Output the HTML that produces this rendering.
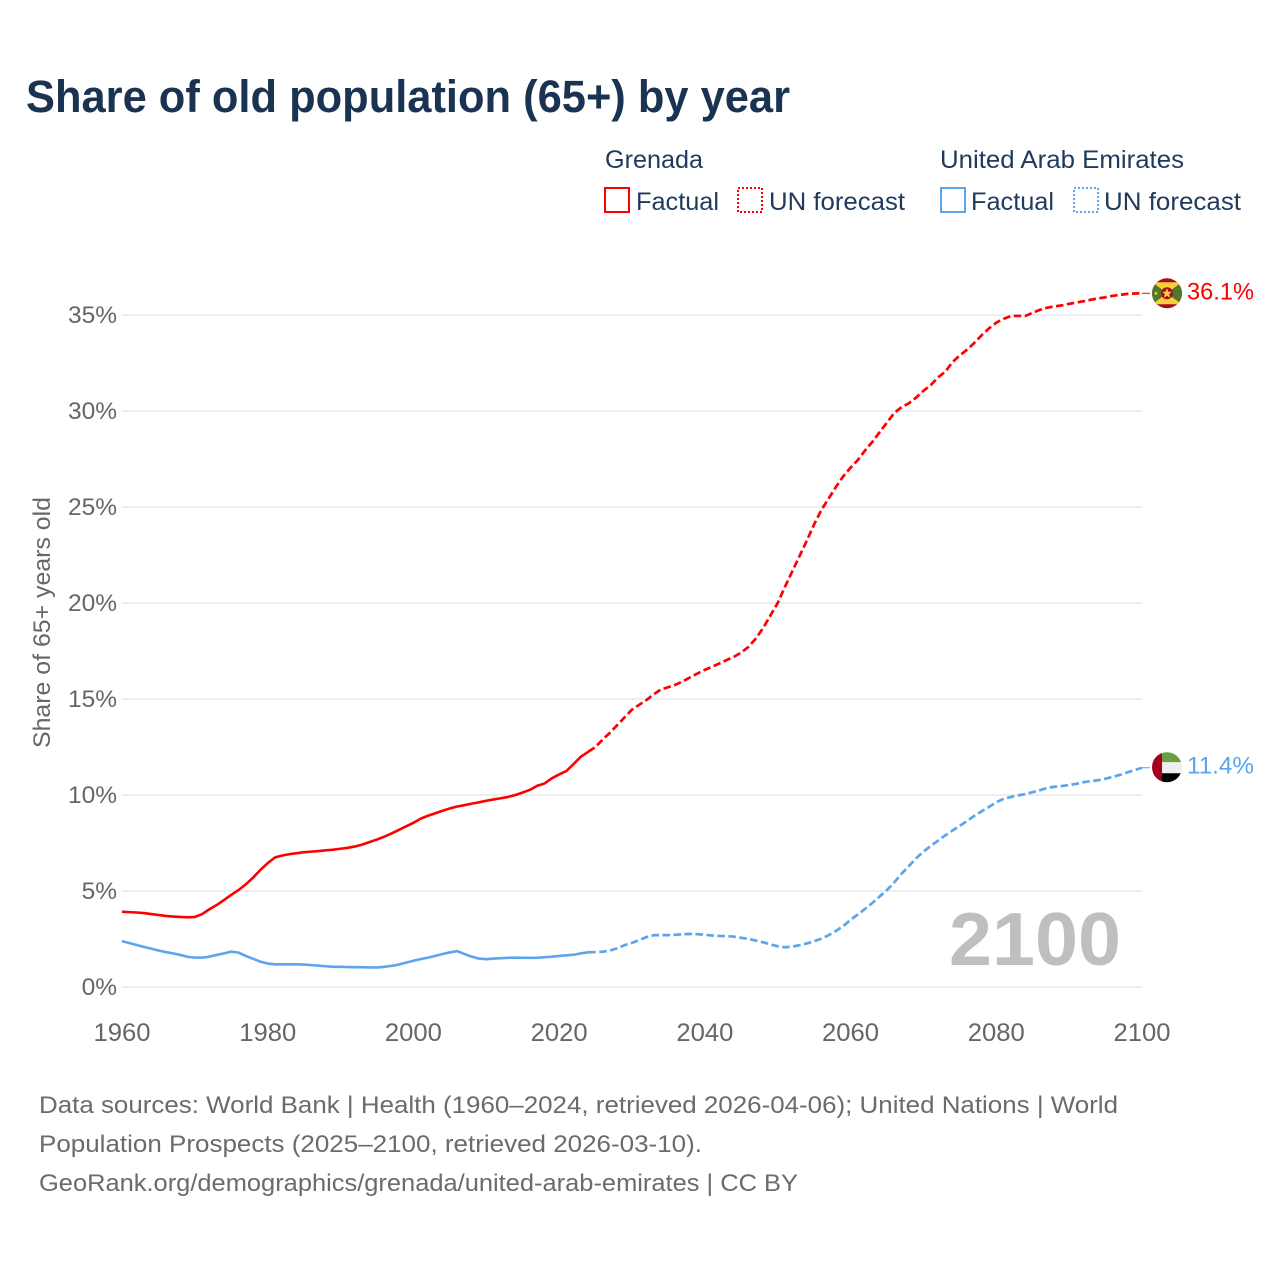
<!DOCTYPE html>
<html lang="en">
<head>
<meta charset="utf-8">
<title>Share of old population (65+) by year</title>
<style>
html,body{margin:0;padding:0;background:#fff;}
svg{display:block;font-family:"Liberation Sans",sans-serif;}
</style>
</head>
<body>
<svg id="chart" xmlns="http://www.w3.org/2000/svg" width="1280" height="1280" viewBox="0 0 1280 1280">
  <defs>
    <clipPath id="flag-clip"><circle cx="0" cy="0" r="15"/></clipPath>
  </defs>
  <rect x="0" y="0" width="1280" height="1280" fill="#fff"/>

  <text x="26" y="112" font-size="45" font-weight="700" fill="#1a3353" textLength="764" lengthAdjust="spacingAndGlyphs">Share of old population (65+) by year</text>

  <g font-size="25" fill="#1f3a5c">
    <text x="605" y="168" textLength="98" lengthAdjust="spacingAndGlyphs">Grenada</text>
    <rect x="605" y="188" width="24" height="24" fill="none" stroke="#ff0000" stroke-width="2"/>
    <text x="636" y="210" textLength="83" lengthAdjust="spacingAndGlyphs">Factual</text>
    <rect x="738" y="188" width="24" height="24" fill="none" stroke="#ff0000" stroke-width="2" stroke-dasharray="2 2"/>
    <text x="769" y="210" textLength="136" lengthAdjust="spacingAndGlyphs">UN forecast</text>

    <text x="940" y="168" textLength="244" lengthAdjust="spacingAndGlyphs">United Arab Emirates</text>
    <rect x="941" y="188" width="24" height="24" fill="none" stroke="#5ba4ee" stroke-width="2"/>
    <text x="971" y="210" textLength="83" lengthAdjust="spacingAndGlyphs">Factual</text>
    <rect x="1074" y="188" width="24" height="24" fill="none" stroke="#5ba4ee" stroke-width="2" stroke-dasharray="2 2"/>
    <text x="1104" y="210" textLength="137" lengthAdjust="spacingAndGlyphs">UN forecast</text>
  </g>

  <g id="grid"></g>
  <g id="y-ticks"></g>
  <g id="x-ticks"></g>

  <text transform="translate(50,622.5) rotate(-90)" text-anchor="middle" font-size="24" fill="#666" textLength="251" lengthAdjust="spacingAndGlyphs">Share of 65+ years old</text>

  <text id="year-watermark" x="1121" y="965" text-anchor="end" font-size="75" font-weight="700" fill="#bfbfbf" textLength="172" lengthAdjust="spacingAndGlyphs"></text>

  <g id="series"></g>

  <g id="flag-grenada">
    <g clip-path="url(#flag-clip)">
      <rect x="-16" y="-16" width="32" height="32" fill="#a50e22"/>
      <polygon points="-15,-11 15,-11 0,0" fill="#f6cf3a"/>
      <polygon points="-15,11 15,11 0,0" fill="#f6cf3a"/>
      <polygon points="-15,-11 -15,11 0,0" fill="#4f7a2c"/>
      <polygon points="15,-11 15,11 0,0" fill="#4f7a2c"/>
      <circle cx="0" cy="0" r="6" fill="#a50e22"/>
      <polygon points="0,-5 1.4,-1.6 4.8,-1.6 2.2,0.8 3,4.4 0,2.4 -3,4.4 -2.2,0.8 -4.8,-1.6 -1.4,-1.6" fill="#f6cf3a"/>
      <circle cx="-11" cy="0" r="1.6" fill="#e5b93a"/>
    </g>
  </g>
  <g id="flag-uae">
    <g clip-path="url(#flag-clip)">
      <rect x="-16" y="-16" width="32" height="11" fill="#6a9f45"/>
      <rect x="-16" y="-5" width="32" height="11" fill="#eeeeee"/>
      <rect x="-16" y="6" width="32" height="10" fill="#000000"/>
      <rect x="-16" y="-16" width="11" height="32" fill="#a5001e"/>
    </g>
  </g>
  <text id="label-grenada" x="1187" text-anchor="start" font-size="24.5" fill="#ff0000" textLength="67" lengthAdjust="spacingAndGlyphs"></text>
  <text id="label-uae" x="1187" text-anchor="start" font-size="24.5" fill="#5ba4ee" textLength="67" lengthAdjust="spacingAndGlyphs"></text>

  <g font-size="24.5" fill="#6b6b6b">
    <text x="39" y="1113" textLength="1079" lengthAdjust="spacingAndGlyphs">Data sources: World Bank | Health (1960–2024, retrieved 2026-04-06); United Nations | World</text>
    <text x="39" y="1152" textLength="663" lengthAdjust="spacingAndGlyphs">Population Prospects (2025–2100, retrieved 2026-03-10).</text>
    <text x="39" y="1191" textLength="759" lengthAdjust="spacingAndGlyphs">GeoRank.org/demographics/grenada/united-arab-emirates | CC BY</text>
  </g>
</svg>
<script>
const startYear = 1960;
const lastFactualYear = 2024;
const xTickYears = [1960, 1980, 2000, 2020, 2040, 2060, 2080, 2100];
const yTickValues = [0, 5, 10, 15, 20, 25, 30, 35];
const grenadaValues = [
  3.92,3.90,3.88,3.85,3.80,3.75,3.70,3.67,3.65,3.63,
  3.65,3.80,4.05,4.27,4.53,4.80,5.05,5.35,5.70,6.10,
  6.45,6.75,6.85,6.92,6.97,7.02,7.05,7.08,7.12,7.15,
  7.20,7.25,7.32,7.42,7.55,7.68,7.83,8.00,8.18,8.37,
  8.55,8.77,8.92,9.05,9.18,9.30,9.40,9.47,9.55,9.62,
  9.70,9.77,9.83,9.90,10.00,10.13,10.27,10.48,10.60,10.87,
  11.07,11.25,11.62,12.00,12.25,12.50,12.90,13.25,13.65,14.05,
  14.45,14.70,14.95,15.25,15.50,15.62,15.75,15.92,16.13,16.33,
  16.52,16.68,16.85,17.03,17.20,17.42,17.72,18.15,18.70,19.35,
  20.00,20.85,21.65,22.45,23.25,24.10,24.85,25.45,26.05,26.60,
  27.05,27.45,27.95,28.40,28.90,29.40,29.90,30.20,30.40,30.70,
  31.05,31.35,31.75,32.05,32.55,32.90,33.20,33.55,33.95,34.30,
  34.60,34.80,34.95,34.95,34.95,35.12,35.27,35.38,35.45,35.50,
  35.58,35.65,35.72,35.80,35.87,35.92,36.00,36.05,36.10,36.12,
  36.13
];
const uaeValues = [
  2.39,2.29,2.19,2.09,2.00,1.90,1.82,1.75,1.67,1.57,
  1.53,1.53,1.58,1.67,1.75,1.84,1.79,1.62,1.47,1.32,
  1.22,1.18,1.18,1.18,1.18,1.17,1.14,1.11,1.08,1.05,
  1.05,1.04,1.03,1.03,1.02,1.02,1.05,1.10,1.17,1.27,
  1.37,1.45,1.53,1.62,1.72,1.80,1.87,1.72,1.58,1.48,
  1.45,1.48,1.50,1.52,1.53,1.52,1.52,1.52,1.55,1.58,
  1.62,1.65,1.68,1.75,1.81,1.82,1.84,1.90,2.02,2.18,
  2.30,2.45,2.60,2.70,2.70,2.70,2.72,2.75,2.76,2.75,
  2.72,2.68,2.66,2.65,2.62,2.56,2.50,2.42,2.33,2.22,
  2.12,2.07,2.10,2.18,2.27,2.38,2.52,2.70,2.92,3.18,
  3.50,3.78,4.07,4.38,4.72,5.05,5.45,5.90,6.30,6.70,
  7.05,7.35,7.62,7.90,8.15,8.40,8.65,8.92,9.15,9.38,
  9.62,9.80,9.90,9.98,10.05,10.15,10.25,10.37,10.43,10.47,
  10.52,10.58,10.67,10.72,10.77,10.85,10.95,11.05,11.18,11.30,
  11.42
];

const svgNS = 'http://www.w3.org/2000/svg';
const xScale = year => 122 + (year - 1960) * (1020 / 140);
const yScale = value => 987 - value * 19.2;

const gridGroup = document.getElementById('grid');
const yTickGroup = document.getElementById('y-ticks');
yTickValues.forEach(v => {
  const line = document.createElementNS(svgNS, 'line');
  
  
  line.setAttribute('x1', xScale(1960));
  line.setAttribute('x2', xScale(2100));
  line.setAttribute('y1', yScale(v));
  line.setAttribute('y2', yScale(v));
  line.setAttribute('stroke', '#eeeeee');
  line.setAttribute('stroke-width', '2');
  gridGroup.appendChild(line);

  const label = document.createElementNS(svgNS, 'text');
  
  
  label.setAttribute('x', 117);
  label.setAttribute('y', yScale(v) + 8);
  label.setAttribute('text-anchor', 'end');
  label.setAttribute('font-size', '24.5');
  label.setAttribute('fill', '#666666');
  label.textContent = v + '%';
  yTickGroup.appendChild(label);
});

const xTickGroup = document.getElementById('x-ticks');
xTickYears.forEach(y => {
  const label = document.createElementNS(svgNS, 'text');
  
  
  label.setAttribute('x', xScale(y));
  label.setAttribute('y', 1041);
  label.setAttribute('text-anchor', 'middle');
  label.setAttribute('font-size', '25');
  label.setAttribute('textLength', '57');
  label.setAttribute('lengthAdjust', 'spacingAndGlyphs');
  label.setAttribute('fill', '#666666');
  label.textContent = y;
  xTickGroup.appendChild(label);
});

const buildPath = (values, fromYear, toYear) => {
  let d = '';
  for (let y = fromYear; y <= toYear; y++) {
    d += (d ? 'L' : 'M') + xScale(y).toFixed(2) + ' ' + yScale(values[y - startYear]).toFixed(2);
  }
  return d;
};

const seriesGroup = document.getElementById('series');
const drawSeries = (values, color) => {
  const endYear = startYear + values.length - 1;
  const factual = document.createElementNS(svgNS, 'path');
  
  
  factual.setAttribute('d', buildPath(values, startYear, lastFactualYear));
  factual.setAttribute('fill', 'none');
  factual.setAttribute('stroke', color);
  factual.setAttribute('stroke-width', '2.6');
  factual.setAttribute('stroke-linejoin', 'round');
  seriesGroup.appendChild(factual);

  const forecast = document.createElementNS(svgNS, 'path');
  
  
  forecast.setAttribute('d', buildPath(values, lastFactualYear, endYear));
  forecast.setAttribute('fill', 'none');
  forecast.setAttribute('stroke', color);
  forecast.setAttribute('stroke-width', '2.7');
  forecast.setAttribute('stroke-dasharray', '7.5 3.5');
  seriesGroup.appendChild(forecast);

  const connector = document.createElementNS(svgNS, 'line');
  
  
  connector.setAttribute('x1', xScale(endYear));
  connector.setAttribute('x2', xScale(endYear) + 8);
  connector.setAttribute('y1', yScale(values[values.length - 1]));
  connector.setAttribute('y2', yScale(values[values.length - 1]));
  connector.setAttribute('stroke', color);
  connector.setAttribute('stroke-width', '1');
  seriesGroup.appendChild(connector);
};
drawSeries(grenadaValues, '#ff0000');
drawSeries(uaeValues, '#5ba4ee');

const lastGrenada = grenadaValues[grenadaValues.length - 1];
const lastUae = uaeValues[uaeValues.length - 1];
document.getElementById('flag-grenada').setAttribute('transform', 'translate(1167,' + yScale(lastGrenada) + ')');
document.getElementById('flag-uae').setAttribute('transform', 'translate(1167,' + (yScale(lastUae) - 0.5) + ')');
const labelGrenada = document.getElementById('label-grenada');
labelGrenada.setAttribute('y', yScale(lastGrenada) + 6);
labelGrenada.textContent = lastGrenada.toFixed(1) + '%';
const labelUae = document.getElementById('label-uae');
labelUae.setAttribute('y', yScale(lastUae) + 6);
labelUae.textContent = lastUae.toFixed(1) + '%';
document.getElementById('year-watermark').textContent = startYear + grenadaValues.length - 1;
</script>
</body>
</html>
